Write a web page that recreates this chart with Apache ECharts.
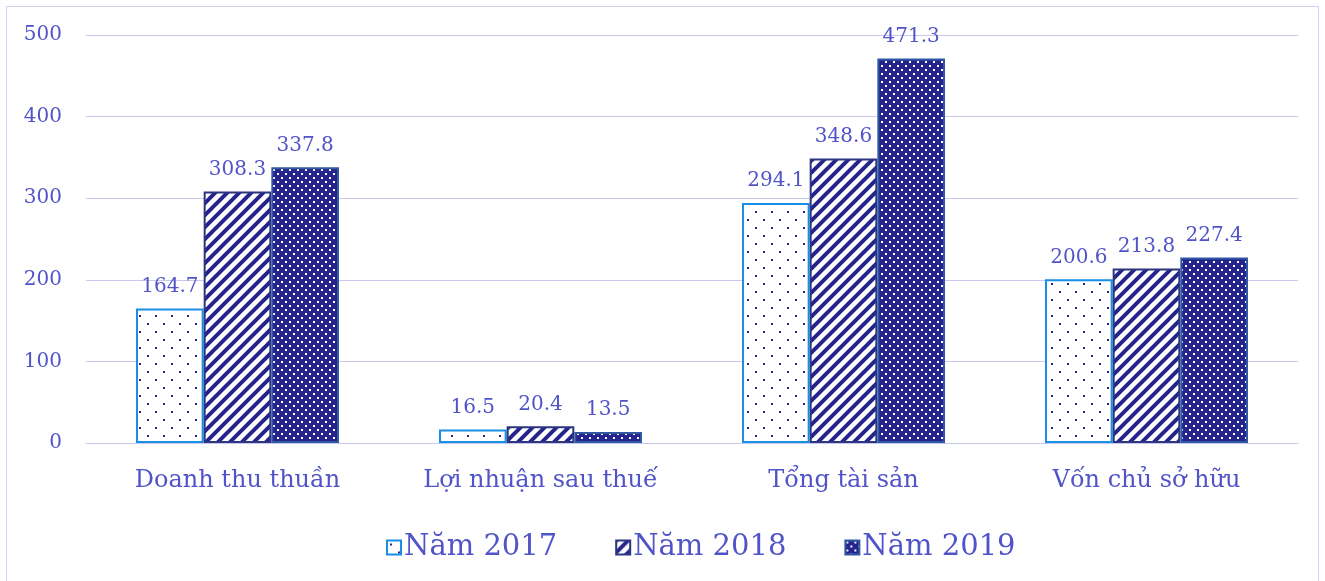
<!DOCTYPE html>
<html>
<head>
<meta charset="UTF-8">
<title>Chart</title>
<script src="https://cdnjs.cloudflare.com/ajax/libs/echarts/6.0.0/echarts.min.js"></script>
<style>
  html, body { margin: 0; padding: 0; background: #fff; }
</style>
</head>
<body>
	<div id="main" style="width: 1325px; height: 581px;"></div>

	<script type="text/javascript">
		// dữ liệu
		var categories = ['Doanh thu thuần', 'Lợi nhuận sau thuế', 'Tổng tài sản', 'Vốn chủ sở hữu'];
		var seriesNames = ['Năm 2017', 'Năm 2018', 'Năm 2019'];
		var values2017 = [164.7, 16.5, 294.1, 200.6];
		var values2018 = [308.3, 20.4, 348.6, 213.8];
		var values2019 = [337.8, 13.5, 471.3, 227.4];
		var yTicks = [0, 100, 200, 300, 400, 500];

		var textColor = '#5054c8';
		var navy = '#24248c';
		var fontFam = '"DejaVu Serif", "Liberation Serif", serif';

		// hoa văn chấm thưa (2017)
		function dotsSparse() {
			var c = document.createElement('canvas');
			c.width = 16; c.height = 16;
			var g = c.getContext('2d');
			g.fillStyle = '#fff';
			g.fillRect(0, 0, 16, 16);
			g.fillStyle = navy;
			g.fillRect(3, 3, 2, 2);
			g.fillRect(11, 11, 2, 2);
			return c;
		}
		// sọc chéo (2018)
		function stripes() {
			var c = document.createElement('canvas');
			c.width = 12; c.height = 12;
			var g = c.getContext('2d');
			g.fillStyle = '#fff';
			g.fillRect(0, 0, 12, 12);
			g.strokeStyle = navy;
			g.lineWidth = 4;
			g.beginPath();
			g.moveTo(-3, 15); g.lineTo(15, -3);
			g.moveTo(-9, 9); g.lineTo(3, -3);
			g.moveTo(9, 15); g.lineTo(15, 9);
			g.stroke();
			return c;
		}
		// chấm trắng trên nền xanh (2019)
		function dotsDense() {
			var c = document.createElement('canvas');
			c.width = 8; c.height = 8;
			var g = c.getContext('2d');
			g.fillStyle = navy;
			g.fillRect(0, 0, 8, 8);
			g.fillStyle = '#fff';
			g.fillRect(1, 1, 2, 2);
			g.fillRect(5, 5, 2, 2);
			return c;
		}

		var fills = [
			{ image: dotsSparse(), repeat: 'repeat' },
			{ image: stripes(), repeat: 'repeat' },
			{ image: dotsDense(), repeat: 'repeat' }
		];
		var borders = ['#1a8fe6', '#2c3580', '#2f58a0'];
		var allValues = [values2017, values2018, values2019];

		var series = [];
		for (var i = 0; i < 3; i++) {
			series.push({
				name: seriesNames[i],
				type: 'bar',
				data: allValues[i],
				barGap: '0%',
				barCategoryGap: '33%',
				itemStyle: {
					color: fills[i],
					borderColor: borders[i],
					borderWidth: 2
				},
				label: {
					show: true,
					position: 'top',
					distance: 12,
					color: textColor,
					fontFamily: fontFam,
					fontSize: 20,
					formatter: function (p) { return p.value.toFixed(1); }
				}
			});
		}

		var myChart = echarts.init(document.getElementById('main'));
		myChart.setOption({
			animation: false,
			graphic: [{
				type: 'rect',
				shape: { x: 6.5, y: 6.5, width: 1312, height: 580 },
				style: { fill: 'none', stroke: '#cfcff0', lineWidth: 1 }
			}],
			grid: { left: 86, right: 27, top: 35, bottom: 138 },
			legend: {
				data: seriesNames,
				icon: 'rect',
				bottom: 14,
				left: 381,
				itemWidth: 14,
				itemHeight: 14,
				itemGap: 58,
				textStyle: { color: textColor, fontFamily: fontFam, fontSize: 29, padding: [0, 0, 0, -2] }
			},
			xAxis: {
				type: 'category',
				data: categories,
				axisLine: { lineStyle: { color: '#c8c8ee', width: 1 } },
				axisTick: { show: false },
				axisLabel: { interval: 0, color: textColor, fontFamily: fontFam, fontSize: 24, margin: 26 }
			},
			yAxis: {
				type: 'value',
				min: yTicks[0],
				max: yTicks[yTicks.length - 1],
				interval: 100,
				axisLine: { show: false },
				axisTick: { show: false },
				splitLine: { lineStyle: { color: '#c8c8ee', width: 1 } },
				axisLabel: { color: textColor, fontFamily: fontFam, fontSize: 20, margin: 24 }
			},
			series: series
		});
	</script>
</body>
</html>
